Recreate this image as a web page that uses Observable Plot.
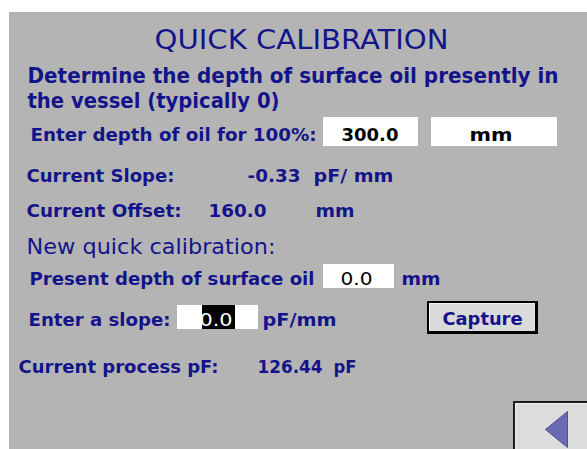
<!DOCTYPE html>
<html><head><meta charset="utf-8">
<script src="https://cdn.jsdelivr.net/npm/d3@7"></script>
<script src="https://cdn.jsdelivr.net/npm/@observablehq/plot@0.6"></script>
<style>html,body{margin:0;padding:0;background:#fff;overflow:hidden}</style>
</head><body><div id="chart"></div>
<script>
// ---- content ----
const title = "QUICK CALIBRATION";
const instructions = ["Determine the depth of surface oil presently in", "the vessel (typically 0)"];
const fieldLabels = ["Enter depth of oil for 100%:", "Current Slope:", "Current Offset:", "New quick calibration:", "Present depth of surface oil", "Enter a slope:", "Current process pF:"];
const fieldValues = ["300.0", "-0.33", "160.0", "", "0.0", "0.0", "126.44"];
const fieldUnits = ["mm", "pF/ mm", "mm", "", "mm", "pF/mm", "pF"];
const buttonLabels = ["Capture"];

// ---- layout (screen geometry) ----
const NAVY = "#14148a", BLACK = "#000", WHITE = "#fff";
const rowBase = [140, 181, 216, 253, 284, 325, 372];
const labelLayout = [
  {x: 30, w: 286, bold: true}, {x: 26, w: 148, bold: true}, {x: 26, w: 155, bold: true},
  {x: 26, w: 249, bold: false, size: 21}, {x: 29, w: 285, bold: true}, {x: 28, w: 142, bold: true},
  {x: 18, w: 200, bold: true}
];
const valueLayout = [
  {x: 341, w: 57, bold: true, color: BLACK}, {x: 247, w: 53, bold: true, color: NAVY},
  {x: 208, w: 58, bold: true, color: NAVY}, null,
  {x: 340, w: 32, bold: false, color: BLACK}, {x: 199, w: 33, bold: false, color: WHITE},
  {x: 257, w: 65, bold: true, color: NAVY}
];
const unitLayout = [
  {x: 469, w: 43, color: BLACK}, {x: 313, w: 80, color: NAVY}, {x: 315, w: 39, color: NAVY}, null,
  {x: 401, w: 39, color: NAVY}, {x: 262, w: 74, color: NAVY}, {x: 333, w: 23, color: NAVY}
];

const items = [];
items.push({text: title, x: 154, base: 48, w: 294, size: 26, bold: false, color: NAVY});
items.push({text: instructions[0], x: 27, base: 82, w: 531, size: 21, bold: true, color: NAVY});
items.push({text: instructions[1], x: 27, base: 107, w: 252, size: 21, bold: true, color: NAVY});
fieldLabels.forEach((t, i) => {
  const L = labelLayout[i];
  items.push({text: t, x: L.x, base: rowBase[i], w: L.w, size: L.size || 18, bold: L.bold, color: NAVY});
  if (fieldValues[i] && valueLayout[i]) {
    const V = valueLayout[i];
    items.push({text: fieldValues[i], x: V.x, base: rowBase[i], w: V.w, size: 18, bold: V.bold, color: V.color});
  }
  if (fieldUnits[i] && unitLayout[i]) {
    const U = unitLayout[i];
    items.push({text: fieldUnits[i], x: U.x, base: rowBase[i], w: U.w, size: 18, bold: true, color: U.color});
  }
});
items.push({text: buttonLabels[0], x: 442, base: 324, w: 80, size: 18, bold: true, color: NAVY});

const rects = [
  {x1: 9, x2: 590, y1: 12, y2: 452, fill: "#b4b4b4"},           // panel
  {x1: 323, x2: 418, y1: 117, y2: 146, fill: "#fff"},           // 300.0 box
  {x1: 431, x2: 557, y1: 117, y2: 146, fill: "#fff"},           // mm box
  {x1: 323, x2: 394, y1: 264, y2: 288, fill: "#fff"},           // 0.0 box
  {x1: 177, x2: 258, y1: 305, y2: 329, fill: "#fff"},           // slope box
  {x1: 202, x2: 235, y1: 305, y2: 329, fill: "#000"},           // selection
  {x1: 427, x2: 538, y1: 301, y2: 334, fill: "#000"},           // capture border
  {x1: 429, x2: 535, y1: 303, y2: 331, fill: "#f4f4f4"},        // highlight
  {x1: 430, x2: 535, y1: 304, y2: 331, fill: "#dadada"},        // face
  {x1: 513, x2: 590, y1: 401, y2: 452, fill: "#1a1a1a"},        // back border
  {x1: 515, x2: 590, y1: 403, y2: 452, fill: "#f0f0f0"},
  {x1: 516, x2: 590, y1: 404, y2: 452, fill: "#dcdcdc"}
];
const arrow = [[545, 429], [567, 411], [567, 447], [545, 429]];

const groups = [
  items.filter(d => !d.bold),
  items.filter(d => d.bold)
];

const textMark = (data, bold) => Plot.text(data, {
  x: "x", y: d => d.base - 0.32 * d.size, text: "text", fill: "color",
  fontSize: "size", textAnchor: "start", lineAnchor: "middle",
  fontFamily: "'DejaVu Sans Condensed', 'DejaVu Sans', sans-serif", fontWeight: bold ? "bold" : "normal"
});

const svg = Plot.plot({
  width: 587, height: 449, margin: 0,
  x: {domain: [0, 587], range: [0, 587], axis: null},
  y: {domain: [0, 449], range: [0, 449], axis: null},
  color: {type: "identity"},
  style: {background: "#fff", overflow: "hidden"},
  marks: [
    Plot.rect(rects, {x1: "x1", x2: "x2", y1: "y1", y2: "y2", fill: "fill"}),
    Plot.line(arrow, {x: d => d[0], y: d => d[1], fill: "#6a6ab2", stroke: "#3c3c78", strokeWidth: 0.8}),
    textMark(groups[0], false),
    textMark(groups[1], true)
  ]
});

const tg = svg.querySelectorAll('g[aria-label="text"]');
tg.forEach((g, i) => {
  g.querySelectorAll("text").forEach((t, j) => {
    const d = groups[i][j];
    if (d) { t.setAttribute("textLength", d.w); t.setAttribute("lengthAdjust", "spacingAndGlyphs"); }
  });
});
document.getElementById("chart").appendChild(svg);
</script></body></html>
